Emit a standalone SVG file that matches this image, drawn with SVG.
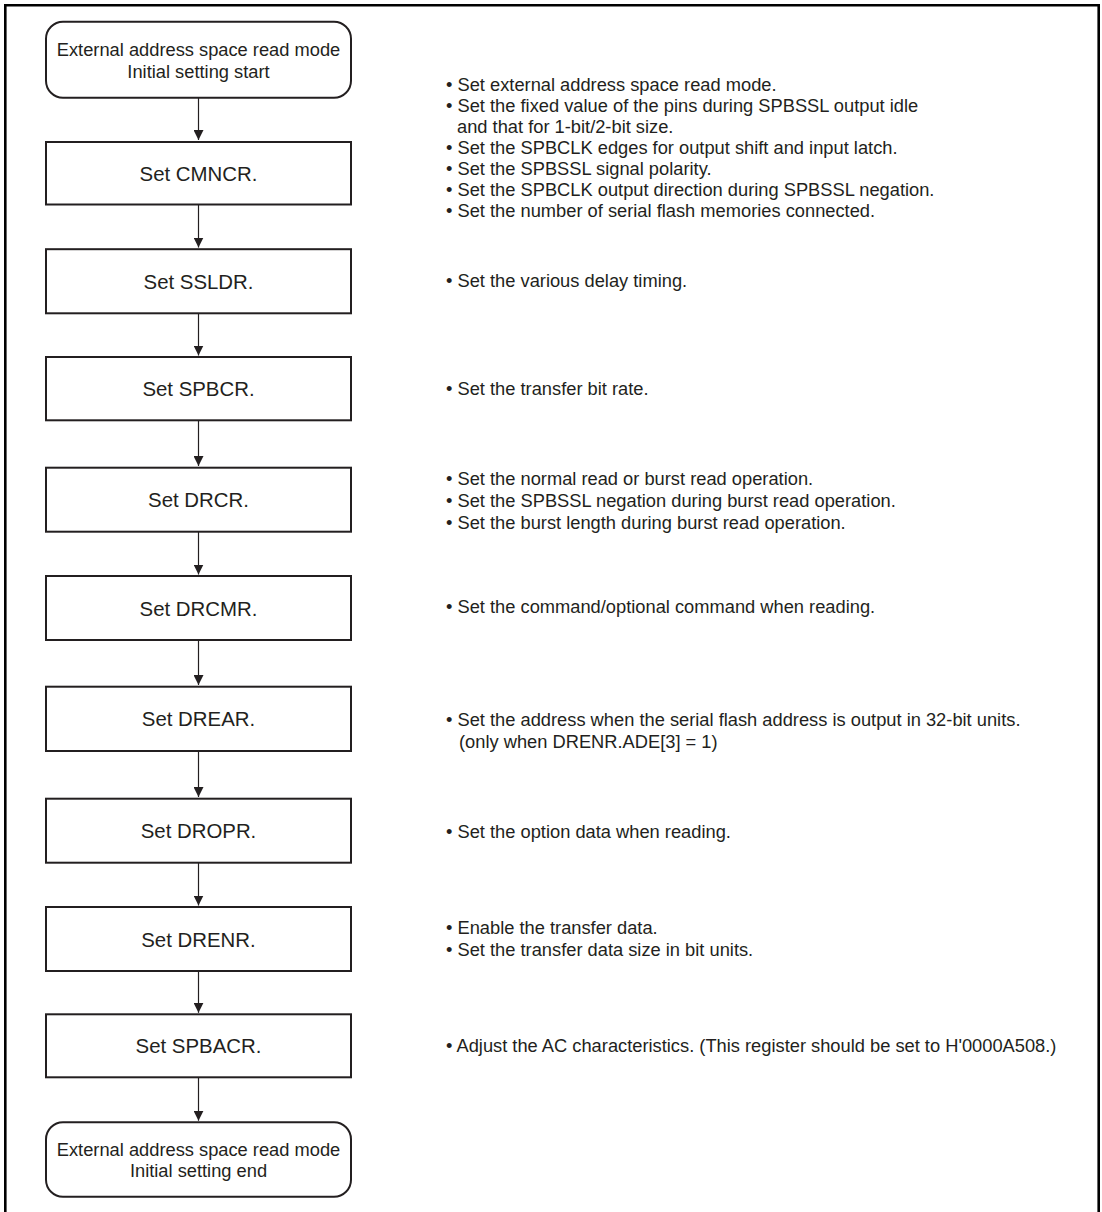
<svg xmlns="http://www.w3.org/2000/svg" width="1102" height="1212" viewBox="0 0 1102 1212">
<style>
.frame{fill:none;stroke:#000;stroke-width:2.6}
.box{fill:#fff;stroke:#231f20;stroke-width:2}
.lbl{font-family:"Liberation Sans",Arial,sans-serif;font-size:20.4px;fill:#231f20;text-anchor:middle}
.term{font-family:"Liberation Sans",Arial,sans-serif;font-size:18.3px;fill:#231f20;text-anchor:middle}
.note{font-family:"Liberation Sans",Arial,sans-serif;font-size:18.3px;fill:#231f20}
.conn{stroke:#231f20;stroke-width:1.2;fill:none}
</style>
<defs>
<marker id="ah" markerWidth="10" markerHeight="10" viewBox="0 0 10 10" refX="10" refY="5" orient="auto" markerUnits="userSpaceOnUse">
<path d="M0,0 L10,5 L0,10 Z" fill="#231f20"/>
</marker>
</defs>
<rect width="1102" height="1212" fill="#fff"/>
<path class="frame" d="M5.3,1212 V5.3 H1098.7 V1212"/>

<g id="connectors">
<line class="conn" x1="198.5" y1="97.7" x2="198.5" y2="140" marker-end="url(#ah)"/>
<line class="conn" x1="198.5" y1="204.5" x2="198.5" y2="247.5" marker-end="url(#ah)"/>
<line class="conn" x1="198.5" y1="313.3" x2="198.5" y2="355.5" marker-end="url(#ah)"/>
<line class="conn" x1="198.5" y1="420.3" x2="198.5" y2="466" marker-end="url(#ah)"/>
<line class="conn" x1="198.5" y1="531.7" x2="198.5" y2="574.5" marker-end="url(#ah)"/>
<line class="conn" x1="198.5" y1="640" x2="198.5" y2="685" marker-end="url(#ah)"/>
<line class="conn" x1="198.5" y1="751" x2="198.5" y2="797" marker-end="url(#ah)"/>
<line class="conn" x1="198.5" y1="862.7" x2="198.5" y2="905.5" marker-end="url(#ah)"/>
<line class="conn" x1="198.5" y1="971" x2="198.5" y2="1012.8" marker-end="url(#ah)"/>
<line class="conn" x1="198.5" y1="1077.3" x2="198.5" y2="1120.7" marker-end="url(#ah)"/>
</g>

<g id="start">
<rect class="box" x="46" y="21.8" width="305" height="75.9" rx="17" ry="17"/>
<text class="term" x="198.5" y="56">External address space read mode</text>
<text class="term" x="198.5" y="77.5">Initial setting start</text>
</g>
<g id="cmncr">
<rect class="box" x="46" y="142" width="305" height="62.5"/>
<text class="lbl" x="198.5" y="180.5">Set CMNCR.</text>
</g>
<g id="ssldr">
<rect class="box" x="46" y="249.2" width="305" height="64.1"/>
<text class="lbl" x="198.5" y="288.8">Set SSLDR.</text>
</g>
<g id="spbcr">
<rect class="box" x="46" y="357" width="305" height="63.3"/>
<text class="lbl" x="198.5" y="396">Set SPBCR.</text>
</g>
<g id="drcr">
<rect class="box" x="46" y="467.7" width="305" height="64"/>
<text class="lbl" x="198.5" y="507.2">Set DRCR.</text>
</g>
<g id="drcmr">
<rect class="box" x="46" y="576" width="305" height="64"/>
<text class="lbl" x="198.5" y="615.5">Set DRCMR.</text>
</g>
<g id="drear">
<rect class="box" x="46" y="686.7" width="305" height="64.3"/>
<text class="lbl" x="198.5" y="726.3">Set DREAR.</text>
</g>
<g id="dropr">
<rect class="box" x="46" y="798.7" width="305" height="64"/>
<text class="lbl" x="198.5" y="838.2">Set DROPR.</text>
</g>
<g id="drenr">
<rect class="box" x="46" y="907" width="305" height="64"/>
<text class="lbl" x="198.5" y="946.5">Set DRENR.</text>
</g>
<g id="spbacr">
<rect class="box" x="46" y="1014.3" width="305" height="63"/>
<text class="lbl" x="198.5" y="1053.3">Set SPBACR.</text>
</g>
<g id="end">
<rect class="box" x="46" y="1122.2" width="305" height="74.6" rx="17" ry="17"/>
<text class="term" x="198.5" y="1155.7">External address space read mode</text>
<text class="term" x="198.5" y="1177">Initial setting end</text>
</g>

<g id="notes">
<text class="note" x="446" y="91">• Set external address space read mode.</text>
<text class="note" x="446" y="112">• Set the fixed value of the pins during SPBSSL output idle</text>
<text class="note" x="457" y="133">and that for 1-bit/2-bit size.</text>
<text class="note" x="446" y="154">• Set the SPBCLK edges for output shift and input latch.</text>
<text class="note" x="446" y="175">• Set the SPBSSL signal polarity.</text>
<text class="note" x="446" y="196">• Set the SPBCLK output direction during SPBSSL negation.</text>
<text class="note" x="446" y="217">• Set the number of serial flash memories connected.</text>
<text class="note" x="446" y="287">• Set the various delay timing.</text>
<text class="note" x="446" y="395">• Set the transfer bit rate.</text>
<text class="note" x="446" y="485">• Set the normal read or burst read operation.</text>
<text class="note" x="446" y="507">• Set the SPBSSL negation during burst read operation.</text>
<text class="note" x="446" y="529">• Set the burst length during burst read operation.</text>
<text class="note" x="446" y="613">• Set the command/optional command when reading.</text>
<text class="note" x="446" y="726">• Set the address when the serial flash address is output in 32-bit units.</text>
<text class="note" x="459" y="748">(only when DRENR.ADE[3] = 1)</text>
<text class="note" x="446" y="838">• Set the option data when reading.</text>
<text class="note" x="446" y="934">• Enable the transfer data.</text>
<text class="note" x="446" y="956">• Set the transfer data size in bit units.</text>
<text class="note" x="446" y="1052">• Adjust the AC characteristics. (This register should be set to H'0000A508.)</text>
</g>
</svg>
